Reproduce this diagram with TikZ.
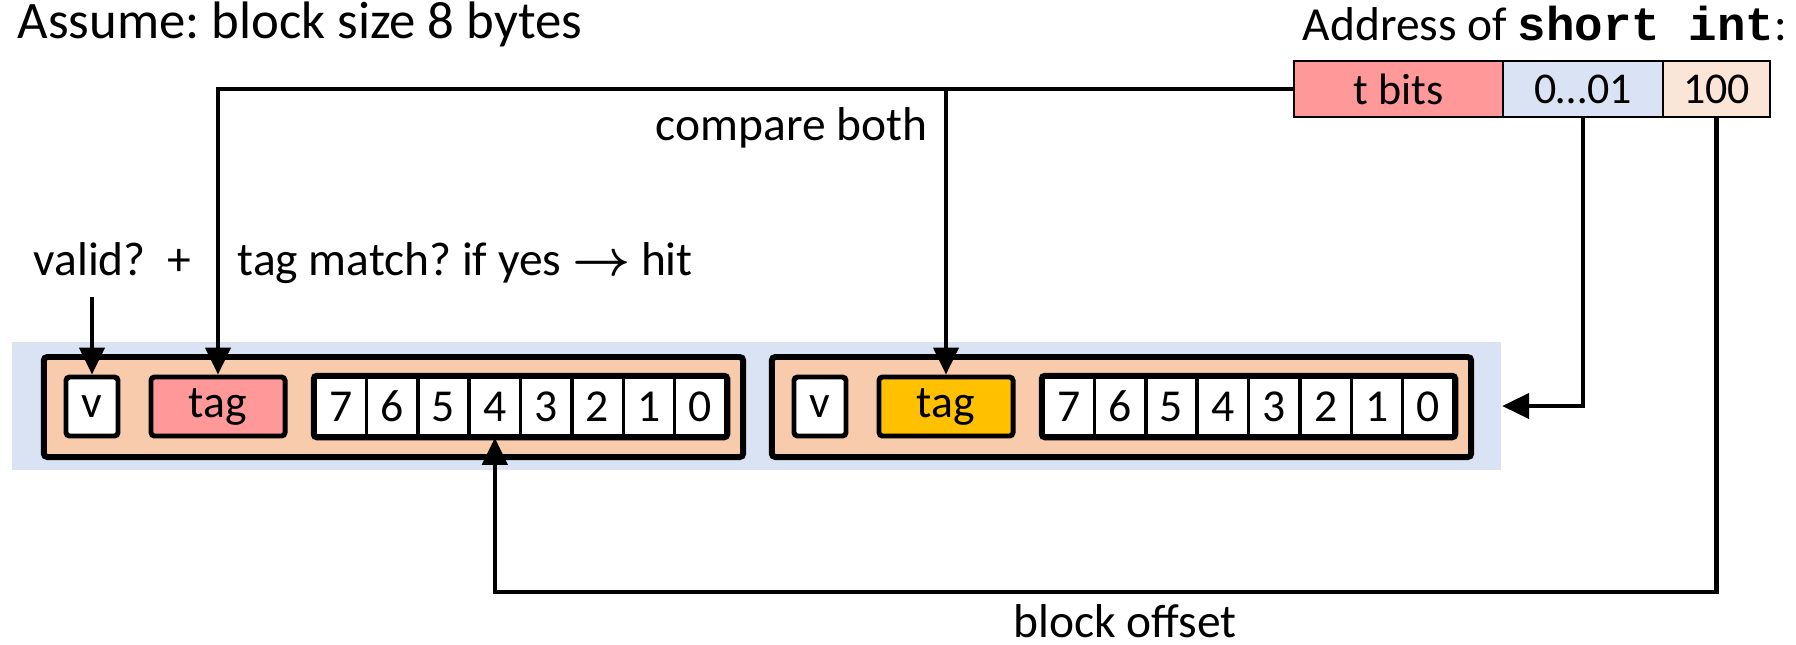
\documentclass[tikz,border=0pt]{standalone}
\usepackage{amsmath}
\usepackage{fontspec}
\setmainfont{Carlito}
\setmonofont{Liberation Mono}
\usepackage{tikz}
\usetikzlibrary{arrows.meta,positioning}
\frenchspacing

\definecolor{setblue}{HTML}{DAE3F3}
\definecolor{linepeach}{HTML}{F8CBAD}
\definecolor{offpeach}{HTML}{FBE5D6}
\definecolor{tagred}{HTML}{FF9999}
\definecolor{tagorange}{HTML}{FFC000}

\begin{document}
\begin{tikzpicture}[x=0.01cm,y=-0.01cm,
  lbl/.style={inner sep=0pt,font=\fontsize{13.5}{16}\selectfont},
  field/.style={draw,line width=0.8pt,minimum height=0.56cm,inner sep=0pt,font=\fontsize{12.5}{14}\selectfont},
  cell/.style={draw,line width=1.4pt,fill=white,rounded corners=1pt,minimum height=0.59cm,inner sep=0pt,font=\fontsize{13}{14}\selectfont},
  byte/.style={draw,line width=1pt,fill=white,minimum width=0.514cm,minimum height=0.59cm,inner sep=0pt,font=\fontsize{13}{14}\selectfont},
  arr/.style={-{Triangle[length=0.27cm,width=0.25cm]},line width=1.2pt}]
\useasboundingbox (0,0) rectangle (1796,644);

% Heading
\node[lbl,anchor=base west,font=\fontsize{15}{18}\selectfont] (title) at (17,38) {Assume: block size 8 bytes};

% Address split into fields
\node[lbl,anchor=base west] (addr) at (1302,40) {Address of \texttt{\bfseries short int}:};
\node[field,fill=tagred,minimum width=2.09cm] (tbits) at (1398.5,89) {t bits};
\node[field,fill=setblue,minimum width=1.60cm] (idx) at (1583,89) {0…01};
\node[field,fill=offpeach,minimum width=1.07cm] (off) at (1716.5,89) {100};

% Set with two lines
\node[fill=setblue,minimum width=14.89cm,minimum height=1.28cm,inner sep=0pt] (set) at (756.5,406) {};
\foreach \i/\L/\col in {1/44/tagred,2/772/tagorange}{
  \node[draw,line width=1.7pt,fill=linepeach,rounded corners=1pt,minimum width=6.99cm,minimum height=1.0cm,inner sep=0pt] (line\i) at (\L+349.5,407) {};
  \node[cell,minimum width=0.52cm] (v\i) at (\L+48,406.5) {v};
  \node[cell,fill=\col,minimum width=1.34cm] (tag\i) at (\L+174,406.5) {tag};
  \foreach \k in {0,...,7}
    \node[byte] (c\i\k) at (\L+296.7+51.375*7-51.375*\k,406.5) {\k};
  \draw[line width=1.4pt,rounded corners=1pt] (c\i7.north west) rectangle (c\i0.south east);
}

% Labels
\node[lbl,anchor=base west] (valid) at (33,275) {valid?\ \ +};
\node[lbl,anchor=base west] (match) at (237,275) {tag match? if yes $\boldsymbol{\rightarrow}$ hit};
\node[lbl,anchor=base east] (cmp) at (928,140) {compare both};
\node[lbl,anchor=base] (boff) at (1125,637) {block offset};

% Connections
\coordinate (vtop) at (92,297);
\coordinate (low) at (0,592);
\draw[arr] (vtop) -- (v1.north);
\draw[arr] (tbits.west) -| (tag1.north);
\draw[arr] (tbits.west -| tag2.north) -- (tag2.north);
\draw[arr] (idx.south) |- (set.east);
\draw[arr] (off.south) |- (low -| c14.south) -- (c14.south);
\end{tikzpicture}
\end{document}
